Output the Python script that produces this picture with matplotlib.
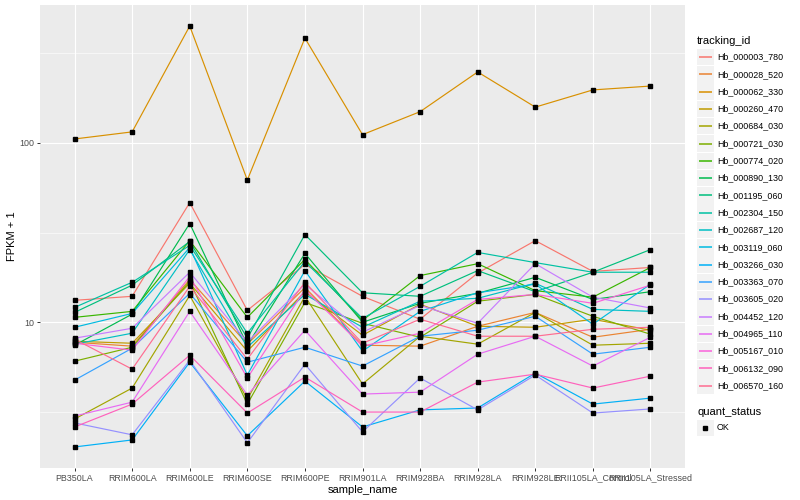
import numpy as np
import matplotlib.pyplot as plt
from matplotlib.patches import Rectangle

plt.rcParams['font.family'] = ['Liberation Sans', 'DejaVu Sans']

samples = ["PB350LA", "RRIM600LA", "RRIM600LE", "RRIM600SE", "RRIM600PE",
           "RRIM901LA", "RRIM928BA", "RRIM928LA", "RRIM928LE",
           "RRII105LA_Control", "RRII105LA_Stressed"]

tracking_ids = ["Hb_000003_780", "Hb_000028_520", "Hb_000062_330", "Hb_000260_470",
                "Hb_000684_030", "Hb_000721_030", "Hb_000774_020", "Hb_000890_130",
                "Hb_001195_060", "Hb_002304_150", "Hb_002687_120", "Hb_003119_060",
                "Hb_003266_030", "Hb_003363_070", "Hb_003605_020", "Hb_004452_120",
                "Hb_004965_110", "Hb_005167_010", "Hb_006132_090", "Hb_006570_160"]

# FPKM + 1 per sample
hb_000003_780 = [13.25, 13.95, 46.4, 11.65, 21.0, 13.95, 10.4, 18.8, 28.5, 19.2, 20.2]
hb_000028_520 = [7.74, 7.36, 17.3, 7.55, 15.6, 7.45, 7.36, 9.5, 11.35, 8.25, 9.14]
hb_000062_330 = [105, 115, 447, 62, 383, 111, 149, 248, 158, 197, 207]
hb_000260_470 = [7.84, 7.64, 16.5, 6.9, 14.8, 8.47, 12.6, 9.5, 9.38, 10.4, 9.03]
hb_000684_030 = [2.89, 4.30, 14.1, 3.73, 13.95, 4.53, 8.36, 7.55, 11.35, 7.45, 7.64]
hb_000721_030 = [6.07, 7.26, 16.9, 3.50, 12.9, 9.87, 8.25, 13.1, 14.3, 10.8, 8.58]
hb_000774_020 = [10.65, 11.5, 28.5, 10.65, 22.4, 10.25, 18.2, 21.2, 15.0, 13.8, 20.2]
hb_000890_130 = [7.45, 11.1, 35.5, 7.45, 24.2, 10.0, 12.75, 14.5, 17.8, 13.4, 14.8]
hb_001195_060 = [11.35, 16.1, 28.2, 8.15, 30.8, 14.6, 13.95, 19.4, 14.8, 19.0, 25.4]
hb_002304_150 = [12.1, 16.7, 26.8, 8.69, 21.8, 10.5, 15.85, 24.5, 21.5, 19.0, 19.0]
hb_002687_120 = [7.55, 8.69, 25.4, 7.26, 14.3, 9.38, 13.1, 13.6, 16.5, 11.8, 11.5]
hb_003119_060 = [9.38, 11.2, 26.1, 5.08, 19.4, 6.9, 11.5, 14.6, 16.3, 9.75, 16.3]
hb_003266_030 = [2.02, 2.21, 5.99, 2.33, 4.70, 2.61, 3.25, 3.33, 5.21, 3.50, 3.78]
hb_003363_070 = [4.76, 7.17, 14.5, 5.99, 7.26, 5.7, 8.36, 9.03, 10.8, 6.64, 7.26]
hb_003605_020 = [2.75, 2.36, 6.15, 2.13, 5.84, 2.45, 4.89, 3.25, 5.08, 3.12, 3.29]
hb_004452_120 = [8.15, 9.26, 19.0, 7.74, 16.3, 8.8, 12.4, 9.87, 21.2, 13.8, 12.0]
hb_004965_110 = [3.0, 3.59, 11.5, 3.93, 9.03, 3.98, 4.08, 6.64, 8.36, 5.7, 8.25]
hb_005167_010 = [7.64, 6.99, 18.0, 4.89, 15.2, 7.36, 8.69, 13.4, 14.3, 12.75, 16.1]
hb_006132_090 = [2.61, 3.50, 6.55, 3.12, 4.95, 3.16, 3.16, 4.64, 5.14, 4.30, 5.01]
hb_006570_160 = [8.05, 5.48, 15.85, 6.23, 16.7, 7.64, 10.4, 8.36, 8.36, 9.14, 9.38]

series = [hb_000003_780, hb_000028_520, hb_000062_330, hb_000260_470, hb_000684_030,
          hb_000721_030, hb_000774_020, hb_000890_130, hb_001195_060, hb_002304_150,
          hb_002687_120, hb_003119_060, hb_003266_030, hb_003363_070, hb_003605_020,
          hb_004452_120, hb_004965_110, hb_005167_010, hb_006132_090, hb_006570_160]

# ggplot hue palette, 20 levels
colors = ["#F8766D", "#EA8331", "#D89000", "#C09B00", "#A3A500", "#7CAE00", "#39B600",
          "#00BB4E", "#00BF7D", "#00C1A3", "#00BFC4", "#00BAE0", "#00B0F6", "#35A2FF",
          "#9590FF", "#C77CFF", "#E76BF3", "#FA62DB", "#FF62BC", "#FF6C91"]

fig = plt.figure(figsize=(8, 5), dpi=100)
ax = fig.add_axes([40/800, 1-468/500, 645/800, 463/500])
ax.set_facecolor('#EBEBEB')

x = np.arange(len(samples))
for vals, c in zip(series, colors):
    ax.plot(x, vals, color=c, lw=0.85, zorder=2)
for vals in series:
    ax.plot(x, vals, ls='none', marker='s', ms=2.6, color='black', zorder=3)

ax.set_yscale('log')
allv = np.concatenate([np.array(s, float) for s in series])
lo, hi = np.log10(allv.min()), np.log10(allv.max())
pad = 0.05*(hi-lo)
ax.set_ylim(10**(lo-pad), 10**(hi+pad))
ax.set_xlim(-0.6, len(samples)-0.4)

ax.set_yticks([10, 100])
ax.set_yticklabels(["10", "100"])
ax.set_yticks([10**0.5, 10**1.5, 10**2.5], minor=True)
ax.set_yticklabels([], minor=True)
ax.set_xticks(x)
ax.set_xticklabels(samples)

ax.grid(which='major', color='white', lw=0.8, zorder=0)
ax.grid(which='minor', axis='y', color='white', lw=0.4, zorder=0)
ax.set_axisbelow(True)
for s in ax.spines.values():
    s.set_visible(False)
ax.tick_params(which='major', length=2.5, width=0.7, color='#333333',
               labelcolor='#4D4D4D', labelsize=6.4, pad=1.5)
ax.tick_params(which='minor', length=0)

ax.set_xlabel("sample_name", fontsize=8, labelpad=2)
ax.set_ylabel("FPKM + 1", fontsize=8, labelpad=2)

# legend drawn in pixel coordinates
lax = fig.add_axes([0, 0, 1, 1])
lax.set_xlim(0, 800)
lax.set_ylim(500, 0)
lax.axis('off')
lax.text(697, 41, "tracking_id", fontsize=8, va='center', ha='left')
y0, dy = 57, 17.3
for i, (tid, c) in enumerate(zip(tracking_ids, colors)):
    yc = y0 + i*dy
    lax.add_patch(Rectangle((697, yc-8.3), 16.6, 16.6, facecolor='#F2F2F2', edgecolor='none'))
    lax.plot([698.5, 711.5], [yc, yc], color=c, lw=1.1, solid_capstyle='butt')
    lax.text(717, yc, tid, fontsize=6.4, va='center', ha='left')
lax.text(697, 412, "quant_status", fontsize=8, va='center', ha='left')
lax.add_patch(Rectangle((697, 428-8.3), 16.6, 16.6, facecolor='#F2F2F2', edgecolor='none'))
lax.plot([705], [428], marker='s', ms=2.6, color='black', ls='none')
lax.text(717, 428, "OK", fontsize=6.4, va='center', ha='left')

fig.savefig("out.png", dpi=100)
